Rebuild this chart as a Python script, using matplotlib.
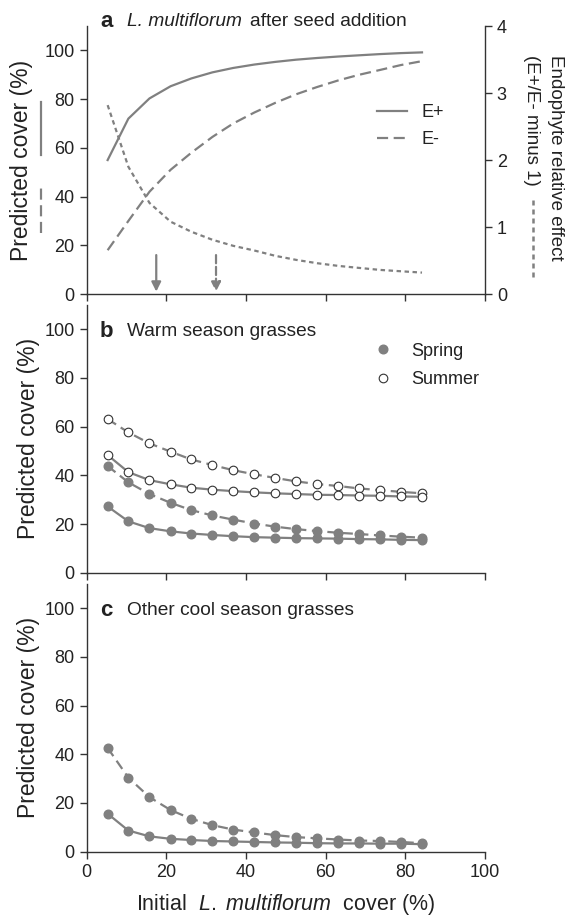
import matplotlib
matplotlib.use("Agg")
import matplotlib.pyplot as plt
from matplotlib.lines import Line2D

plt.rcParams['font.family'] = ['Liberation Sans', 'DejaVu Sans']
plt.rcParams['mathtext.fontset'] = 'custom'
plt.rcParams['mathtext.it'] = 'Liberation Sans:italic'
plt.rcParams['mathtext.rm'] = 'Liberation Sans'

# Данные
init_cover = [5.3, 10.5, 15.8, 21.1, 26.3, 31.6, 36.8, 42.1, 47.4, 52.6, 57.9, 63.2, 68.4, 73.7, 78.9, 84.2]

# a - L. multiflorum после подсева
a_eplus = [55, 72, 80.3, 85.3, 88.5, 91, 92.8, 94.2, 95.3, 96.2, 96.9, 97.5, 98, 98.5, 98.9, 99.2]
a_eminus = [18, 30, 42, 51, 58, 64.5, 70, 74.5, 78.5, 82, 85, 87.7, 90, 92, 94, 95.6]
a_effect = [2.82, 1.9, 1.36, 1.08, 0.93, 0.81, 0.72, 0.65, 0.57, 0.51, 0.46, 0.42, 0.39, 0.36, 0.34, 0.32]
arrow_x = [17.5, 32.5]  # E+ и E-

# b - теплолюбивые злаки
b_summer_eminus = [63.1, 57.6, 53.1, 49.7, 46.5, 44.2, 42.1, 40.4, 38.9, 37.5, 36.4, 35.6, 34.6, 33.9, 33.2, 32.6]
b_summer_eplus = [48.3, 41.3, 38.0, 36.3, 34.9, 34.1, 33.5, 33.0, 32.6, 32.3, 32.0, 31.9, 31.7, 31.6, 31.3, 31.2]
b_spring_eminus = [43.8, 37.1, 32.3, 28.7, 25.7, 23.5, 21.8, 20.2, 18.9, 17.9, 17.1, 16.4, 15.9, 15.3, 14.8, 14.4]
b_spring_eplus = [27.2, 21.1, 18.3, 17.0, 16.1, 15.5, 15.0, 14.6, 14.4, 14.2, 14.1, 14.0, 13.8, 13.7, 13.5, 13.4]

# c - прочие злаки холодного сезона
c_spring_eminus = [42.6, 30.4, 22.4, 17.1, 13.5, 10.9, 9.1, 7.9, 6.8, 6.0, 5.5, 5.0, 4.6, 4.4, 4.0, 3.5]
c_spring_eplus = [15.6, 8.7, 6.3, 5.3, 4.8, 4.4, 4.2, 4.0, 3.8, 3.7, 3.5, 3.4, 3.4, 3.3, 3.3, 3.1]

grey = '#808080'
dark = '#222222'
spine_c = '#333333'
dash = (0, (5, 2.5))
dash_pts = (0, (4.5, 2.5))
dots = (0, (2, 1.6))

fig = plt.figure(figsize=(5.70, 9.18), dpi=100)
left, width, height = 0.1518, 0.699, 0.2919
ax_a = fig.add_axes([left, 0.6797, width, height])
ax_b = fig.add_axes([left, 0.3761, width, height])
ax_c = fig.add_axes([left, 0.0722, width, height])

for ax, pad in ((ax_a, 8), (ax_b, 3.5), (ax_c, 3.5)):
    ax.set_xlim(0, 100)
    ax.set_ylim(0, 110)
    ax.set_xticks([0, 20, 40, 60, 80, 100])
    ax.set_yticks([0, 20, 40, 60, 80, 100])
    ax.spines['top'].set_visible(False)
    ax.spines['right'].set_visible(False)
    for s in ('left', 'bottom'):
        ax.spines[s].set_color(spine_c)
        ax.spines[s].set_linewidth(1.0)
    ax.tick_params(direction='out', length=5, width=1.0, color=spine_c,
                   labelsize=13, labelcolor=dark)
    ax.patch.set_alpha(0)
    ax.set_ylabel('Predicted cover (%)', fontsize=16.5, color=dark, labelpad=pad)

ax_a.tick_params(axis='x', labelbottom=False)
ax_b.tick_params(axis='x', labelbottom=False)

# ---- панель a
ax_a.plot(init_cover, a_eplus, color=grey, lw=1.6, label='E+')
ax_a.plot(init_cover, a_eminus, color=grey, lw=1.6, linestyle=dash, label='E-')
ax_r = ax_a.twinx()
ax_r.set_ylim(0, 4)
ax_r.set_yticks([0, 1, 2, 3, 4])
ax_r.plot(init_cover, a_effect, color=grey, lw=1.6, linestyle=dots)
for s in ('top', 'left', 'bottom'):
    ax_r.spines[s].set_visible(False)
ax_r.spines['right'].set_color(spine_c)
ax_r.spines['right'].set_linewidth(1.0)
ax_r.tick_params(direction='out', length=5, width=1.0, color=spine_c,
                 labelsize=13, labelcolor=dark)

ax_a.annotate('', xy=(arrow_x[0], 1), xytext=(arrow_x[0], 16),
              arrowprops=dict(arrowstyle='-|>', color=grey, lw=1.6,
                              mutation_scale=14, shrinkA=0, shrinkB=0))
ax_a.annotate('', xy=(arrow_x[1], 1), xytext=(arrow_x[1], 16),
              arrowprops=dict(arrowstyle='-|>', color=grey, lw=1.6, linestyle='--',
                              mutation_scale=14, shrinkA=0, shrinkB=0))

ax_a.legend(loc='upper left', bbox_to_anchor=(0.6875, 0.769), frameon=False,
            fontsize=13, handlelength=1.67, handletextpad=0.8, labelspacing=0.55,
            labelcolor=dark)

# заголовок панели a по частям
t1 = ax_a.text(3.4, 112, 'a', fontsize=16, fontweight='bold', color=dark, va='center', clip_on=False)
t2 = ax_a.text(10.1, 112, 'L. multiflorum', fontsize=13.8, style='italic', color=dark,
               va='center', clip_on=False)
ax_a.annotate('after seed addition', xy=(1, 0.5), xycoords=t2, xytext=(8, 0),
              textcoords='offset pixels', fontsize=13.8, color=dark, va='center')

# подписи правой оси
fig.text(0.974, 1 - 55 / 918, 'Endophyte relative effect', rotation=270, fontsize=13.5,
         color=dark, ha='center', va='top')
fig.text(0.933, 1 - 55 / 918, '(E+/E- minus 1)', rotation=270, fontsize=13.5,
         color=dark, ha='center', va='top')

# значки рядом с подписями осей
fig.add_artist(Line2D([0.0714, 0.0714], [1 - 155 / 918, 1 - 101.7 / 918], color=grey, lw=1.6))
fig.add_artist(Line2D([0.0714, 0.0714], [1 - 233 / 918, 1 - 183 / 918], color=grey, lw=1.6,
                      linestyle=dash))
fig.add_artist(Line2D([0.935, 0.935], [1 - 277 / 918, 1 - 200 / 918], color=grey, lw=1.8,
                      linestyle=dots))

# ---- панель b
mk = dict(marker='o', markersize=6.2)
ax_b.plot(init_cover, b_summer_eminus, color=grey, lw=1.6, linestyle=dash_pts,
          markerfacecolor='white', markeredgecolor=spine_c, markeredgewidth=0.8, **mk)
ax_b.plot(init_cover, b_summer_eplus, color=grey, lw=1.6,
          markerfacecolor='white', markeredgecolor=spine_c, markeredgewidth=0.8, **mk)
ax_b.plot(init_cover, b_spring_eminus, color=grey, lw=1.6, linestyle=dash_pts,
          markerfacecolor=grey, markeredgecolor=grey, **mk)
ax_b.plot(init_cover, b_spring_eplus, color=grey, lw=1.6,
          markerfacecolor=grey, markeredgecolor=grey, **mk)

h_spring = Line2D([], [], linestyle='none', marker='o', markersize=6.2,
                  markerfacecolor=grey, markeredgecolor=grey)
h_summer = Line2D([], [], linestyle='none', marker='o', markersize=6.2,
                  markerfacecolor='white', markeredgecolor=spine_c, markeredgewidth=0.8)
ax_b.legend([h_spring, h_summer], ['Spring', 'Summer'], loc='upper left',
            bbox_to_anchor=(0.68, 0.919), frameon=False, fontsize=13, handlelength=1.0,
            handletextpad=1.1, labelspacing=0.65, labelcolor=dark)

ax_b.text(3.4, 99, 'b', fontsize=16, fontweight='bold', color=dark, va='center')
ax_b.text(10.1, 99, 'Warm season grasses', fontsize=13.8, color=dark, va='center')

# ---- панель c
ax_c.plot(init_cover, c_spring_eminus, color=grey, lw=1.6, linestyle=dash_pts,
          markerfacecolor=grey, markeredgecolor=grey, **mk)
ax_c.plot(init_cover, c_spring_eplus, color=grey, lw=1.6,
          markerfacecolor=grey, markeredgecolor=grey, **mk)
ax_c.text(3.4, 99.2, 'c', fontsize=16, fontweight='bold', color=dark, va='center')
ax_c.text(10.1, 99.2, 'Other cool season grasses', fontsize=13.8, color=dark, va='center')

ax_c.set_xlabel(r'Initial  $\mathit{L.\ multiflorum}$  cover (%)', fontsize=15.5, color=dark,
                labelpad=8)

fig.savefig('out.png', dpi=100)
